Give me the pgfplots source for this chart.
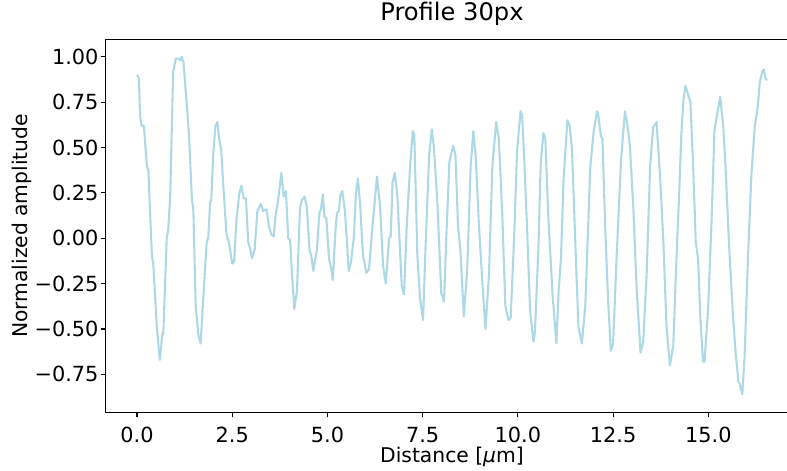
\documentclass[border=0pt]{standalone}
\usepackage{pgfplots}
\pgfplotsset{compat=1.18}
\usepackage{fontspec}
\setmainfont{DejaVu Sans}
\definecolor{lblue}{HTML}{ADD8E6}
\begin{document}
\begin{tikzpicture}
\begin{axis}[
  name=ax,
  scale only axis,
  width=498.96pt, height=268.56pt,
  xmin=-0.827, xmax=17.367,
  ymin=-0.960, ymax=1.095,
  axis line style={line width=0.8pt, black},
  tick style={line width=0.8pt, black},
  major tick length=3.5pt,
  tick align=outside,
  tick pos=left,
  xtick={0,2.5,5,7.5,10,12.5,15},
  xticklabels={0.0,2.5,5.0,7.5,10.0,12.5,15.0},
  ytick={-0.75,-0.5,-0.25,0,0.25,0.5,0.75,1},
  yticklabels={−0.75,−0.50,−0.25,0.00,0.25,0.50,0.75,1.00},
  tick label style={font=\fontsize{15}{17}\selectfont, inner sep=0pt},
  xticklabel style={anchor=north, yshift=-6.8pt},
  yticklabel style={anchor=east, xshift=-1.4pt},
  xlabel={Distance [{\itshape μ}m]},
  ylabel={Normalized amplitude},
  label style={font=\fontsize{14.6}{17}\selectfont},
  xlabel style={at={(0.5,0)}, anchor=base, yshift=-35.8pt, inner sep=0pt},
  ylabel style={at={(0,0.5)}, anchor=base, yshift=56.2pt, inner sep=0pt},
  title={Profile 30px},
  title style={at={(0.5,1)}, anchor=base, yshift=7.34pt, inner sep=0pt, font=\fontsize{17.4}{20}\selectfont},
]
\addplot[color=lblue, line width=1.5pt, line join=round, mark=none] coordinates {
(0.00,0.90)(0.05,0.88)(0.08,0.68)(0.12,0.62)(0.18,0.62)(0.26,0.40)(0.30,0.37)(0.39,-0.09)(0.43,-0.15)(0.52,-0.49)(0.60,-0.67)(0.67,-0.52)(0.69,-0.53)(0.78,0.00)(0.82,0.05)(0.87,0.22)(0.95,0.92)(1.02,0.99)(1.09,0.99)(1.13,0.98)(1.17,1.00)(1.22,0.97)(1.31,0.73)(1.37,0.55)(1.44,0.22)(1.48,0.15)(1.54,-0.37)(1.61,-0.53)(1.67,-0.58)(1.74,-0.33)(1.83,-0.02)(1.87,0.00)(1.92,0.20)(1.95,0.21)(2.00,0.46)(2.06,0.62)(2.11,0.64)(2.17,0.53)(2.21,0.49)(2.26,0.31)(2.35,0.02)(2.42,-0.03)(2.50,-0.14)(2.55,-0.13)(2.61,0.10)(2.68,0.24)(2.74,0.29)(2.80,0.22)(2.86,0.22)(2.92,-0.02)(2.96,-0.05)(3.02,-0.11)(3.09,-0.06)(3.16,0.15)(3.25,0.19)(3.31,0.15)(3.40,0.16)(3.47,0.06)(3.53,0.02)(3.59,0.01)(3.64,0.13)(3.70,0.20)(3.79,0.36)(3.85,0.23)(3.91,0.26)(3.97,0.00)(4.02,-0.01)(4.07,-0.20)(4.13,-0.39)(4.20,-0.29)(4.28,0.17)(4.33,0.21)(4.40,0.23)(4.46,0.17)(4.53,-0.07)(4.57,-0.09)(4.63,-0.18)(4.72,-0.07)(4.79,0.14)(4.83,0.16)(4.88,0.24)(4.92,0.12)(4.97,0.11)(5.04,-0.11)(5.10,-0.17)(5.14,-0.23)(5.21,0.04)(5.25,0.14)(5.30,0.15)(5.34,0.24)(5.39,0.26)(5.46,0.15)(5.56,-0.18)(5.62,-0.13)(5.69,0.00)(5.75,0.25)(5.80,0.33)(5.86,0.18)(5.93,-0.09)(6.02,-0.19)(6.09,-0.17)(6.18,0.06)(6.30,0.34)(6.38,0.18)(6.46,-0.15)(6.53,-0.25)(6.62,0.00)(6.66,0.01)(6.71,0.31)(6.77,0.36)(6.84,0.22)(6.91,-0.09)(6.95,-0.26)(7.01,-0.31)(7.08,0.06)(7.17,0.40)(7.24,0.59)(7.28,0.57)(7.36,-0.09)(7.43,-0.33)(7.51,-0.45)(7.58,-0.02)(7.67,0.46)(7.74,0.60)(7.80,0.49)(7.89,0.18)(7.99,-0.31)(8.03,-0.32)(8.06,-0.35)(8.12,0.00)(8.20,0.42)(8.30,0.51)(8.36,0.46)(8.43,0.06)(8.49,-0.06)(8.58,-0.43)(8.67,-0.17)(8.76,0.40)(8.83,0.59)(8.89,0.46)(8.98,0.06)(9.06,-0.22)(9.15,-0.50)(9.24,-0.20)(9.33,0.40)(9.43,0.64)(9.50,0.55)(9.59,0.13)(9.67,-0.37)(9.75,-0.45)(9.81,-0.44)(9.90,0.00)(9.98,0.49)(10.07,0.70)(10.11,0.68)(10.17,0.42)(10.24,0.06)(10.32,-0.40)(10.41,-0.57)(10.45,-0.51)(10.54,-0.04)(10.60,0.42)(10.67,0.58)(10.72,0.55)(10.80,0.11)(10.91,-0.31)(11.01,-0.58)(11.07,-0.29)(11.13,-0.11)(11.20,0.33)(11.30,0.65)(11.36,0.62)(11.42,0.49)(11.51,-0.04)(11.59,-0.49)(11.68,-0.58)(11.77,-0.37)(11.90,0.39)(11.99,0.59)(12.08,0.70)(12.11,0.68)(12.18,0.56)(12.22,0.55)(12.29,0.07)(12.37,-0.35)(12.44,-0.62)(12.50,-0.58)(12.59,-0.11)(12.71,0.44)(12.81,0.70)(12.88,0.62)(12.94,0.51)(13.03,0.17)(13.12,-0.29)(13.22,-0.63)(13.29,-0.57)(13.38,-0.20)(13.47,0.39)(13.55,0.61)(13.64,0.64)(13.73,0.35)(13.82,-0.02)(13.90,-0.48)(13.99,-0.70)(14.08,-0.59)(14.17,-0.07)(14.23,0.22)(14.29,0.57)(14.35,0.77)(14.40,0.84)(14.47,0.79)(14.53,0.75)(14.60,0.40)(14.67,-0.02)(14.73,-0.11)(14.79,-0.44)(14.86,-0.68)(14.90,-0.68)(14.99,-0.40)(15.08,0.07)(15.16,0.59)(15.23,0.68)(15.31,0.78)(15.39,0.62)(15.45,0.40)(15.54,-0.02)(15.65,-0.44)(15.72,-0.64)(15.79,-0.79)(15.82,-0.80)(15.89,-0.86)(15.95,-0.66)(16.04,-0.11)(16.13,0.35)(16.22,0.62)(16.30,0.73)(16.35,0.86)(16.42,0.92)(16.46,0.93)(16.50,0.88)(16.54,0.87)
};
\end{axis}
\pgfresetboundingbox
\path[use as bounding box] ([xshift=-75.96pt,yshift=-42.12pt]ax.south west) rectangle ([xshift=490.68pt,yshift=28.44pt]ax.north west);
\end{tikzpicture}
\end{document}
